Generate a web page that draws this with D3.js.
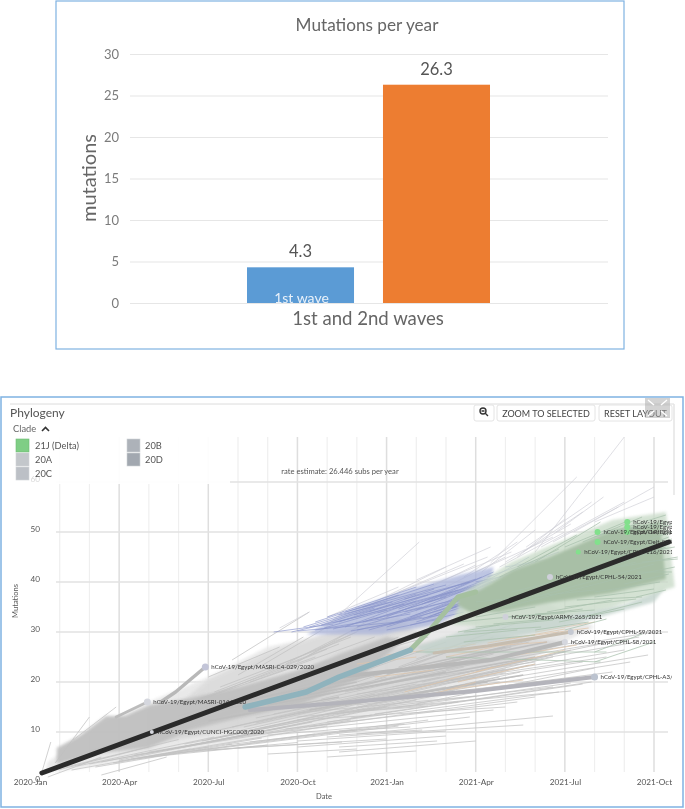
<!DOCTYPE html>
<html><head><meta charset="utf-8">
<script src="https://cdn.jsdelivr.net/npm/d3@7"></script>
<style>
html,body{margin:0;padding:0;background:#fff}
svg{display:block;filter:blur(.35px)}
text{font-family:Lato,sans-serif}
</style></head><body><svg id="c" width="685" height="809"></svg>
<script>
// ---- top chart data ----
const waves=["1st wave","2nd wave"];
const waveValues=[4.3,26.3];
const waveLabels=["4.3","26.3"];
const waveColors=["#5b9bd5","#ed7d31"];
const barTicks=[0,5,10,15,20,25,30];
// ---- phylogeny data: months since 2020-01, mutations ----
const monthTicks=[0,3,6,9,12,15,18,21];
const monthNames=["2020-Jan","2020-Apr","2020-Jul","2020-Oct","2021-Jan","2021-Apr","2021-Jul","2021-Oct"];
const minorMonths=[1,2,4,5,7,8,10,11,13,14,16,17,19,20];
const mutTicks=[0,10,20,30,40,50,60];
const legendNames=["21J (Delta)","20A","20C","20B","20D"];
const legendColors=["#7fce85","#c3c7cb","#bcc0c6","#adb2b9","#a2a8b0"];
const fanLow=[[.5,1.8],[2,3],[4,5],[7,8],[10.4,11.5],[13,15],[15,20],[17,25],[19,31],[16,40],[13,33],[10.4,30],[8,27],[6,21],[4,16],[2,10],[.6,4]];
const fanMid=[[4,7.5],[7,10.5],[10.4,14.5],[13,18.5],[15,22],[17,25.5],[18,28],[15,30],[13,27.5],[10.4,25],[7,19],[4,14]];
const fanHigh=[[5,15.5],[8,21],[10.4,25.5],[13,30],[12.4,33],[10.4,30.5],[8,26],[6,20.5]];
const greyBand=[[.9,6.8],[1.7,9.4],[2.55,13.2],[3.2,13.2],[4.04,15.4],[5.4,16.8],[7.07,19],[9.1,22.4],[10.4,25.6],[12,29],[12.6,28.4],[11,20.4],[9.1,15.4],[7,12.8],[5.4,10.4],[4,6.8],[2.36,5.8],[.9,3.6]];
const blueCloud=[[9.3,29.5],[11,35],[12.9,38.8],[14.5,41.5],[15.6,43],[15.4,37],[13.7,31.5],[11.8,29.5]];
const greenHalo=[[14.6,38],[16.2,44],[17.4,47],[19.6,52.4],[21.4,54],[21.7,39],[19.6,35],[17.4,32.5],[15.4,31],[14.2,31.5]];
const greenCloud=[[14.4,37],[15.15,38.4],[16.26,42.4],[17.4,44.8],[19.6,50.4],[21.2,52],[21.4,40.6],[19.6,37.8],[17.4,35.8],[15.8,34],[14.8,34],[14.4,35.4]];
const tealHalo=[[13,27],[15,31],[17,33],[20,35.5],[21.4,39],[21,36],[18,31],[15,27.5],[13.4,25.5]];
const greyBranches=[
[.4,2,.7,8],[.85,3.8,2,13],[1.45,8.4,2.9,15],[2.4,1.4,4.6,5],[.6,1,2.4,5],[1,2.5,4,7],[1.2,3,5,8.5],[1.6,3.2,6.2,9],
[2,3.6,7.5,9.6],[2.4,4,8.6,11],[3,4.4,9.5,12],[3.4,4.6,10,11.2],[3.5,5.4,10.8,12.4],[4,6,11.5,13.4],[4.6,6.4,12,15],[5,6.8,13,16.4],
[5.2,7.6,13.6,17.2],[5.8,8.2,14.3,18.4],[6,8.6,15,19.6],[6.4,9,15.8,21],[6.8,9.6,16.5,22],[7,10.2,17,23.6],[7.2,11,17.6,25],[7.6,11.8,18,26],
[3,4.2,6,7],[4,5,8,7.4],[5,5.8,9,7.9],[6,6.4,10.5,8],[7,6.8,12,8.6],[9,7,14,9.2],[8,5.6,11,6.6],[10.4,7,13.7,8.2],[10.4,6,15,8.2],[10,5,13,6.2],
[9,8.2,14,10.2],[10,9,16.6,11.4],[11,9.6,17.6,13.2],[10.4,9.4,13.2,10.4],[10.4,10.2,12.8,11],[8,9.4,12.6,11.6],[10.4,14,18.2,18.2],[9,12.4,16,15],
[9,13,14.4,16],[10,13.6,13.4,15.2],[11,14.4,17.6,19],[9,13.8,15,17.2],[11,15.4,16.6,19.6],[12,16.6,18.5,21],[13,17,19.6,22],[10,15.4,15.8,20],
[12,18,18.6,24],[13,19.4,19.4,25],[14,20.4,20,26.4],[12,19.8,17,24],[14,22.6,20.5,29],[13,21.6,18.4,28],[15,24.2,21,30],[11,17.6,16,21.8],
[2,6.2,6,13],[2.5,6.6,7,14.4],[3,7.4,8,15.8],[3.4,8.6,8.4,17],[4,9.2,9,18.4],[4,10,9.6,20],[4.4,11,10,21.6],[5,12.6,10.4,23.4],[5,13.2,11,24.6],[5.4,14,11.4,26],
[5,15,9,23.2],[5.4,16,9.6,25],[6,17,10,26.6],[6.2,18,10.4,27.6],[6.4,19,10.8,29],[6.8,24.4,9.4,34],[6,21,8.4,27],[7,21.4,9.2,29],[7.6,22.6,10,31],
[8,22.4,11,30],[8.6,23.6,11.2,31.4],[9,24,11.6,33],[9.4,25.4,12,33],[7.4,20,11.6,29],[8,19,12.4,29],[9.2,20.6,13,30],[9.8,22,13.4,30.6],
[10,19.6,14,28],[11,20,14.6,27],[11.6,20.4,15,28.2],[12,22,15.6,29],[12.4,23,16,31],[13,24.6,16.4,31.8],[10.4,24,13.4,29],[7,14,11,20.6],[8,14.6,12,21],[9,16,12.6,21.4],
[1.4,2.4,5.4,6.6],[2.2,3,6.8,7.6],[2.8,3.8,7.8,8.8],[3.6,4.6,9.6,9.6],[4.4,5.4,11,10.4],[5.6,6.2,12.4,11.2],[6.6,7.4,13.4,12.4],[7.4,8,14.8,13],
[8,9.8,15.6,14.4],[8.6,10.6,16.4,16],[9.4,11,17,17],[10,12,17.8,18],[10.8,12.8,18.6,19.6],[11.6,13.6,18.9,20],[12.2,14.8,18.2,19.8],[13,15.6,19,22.8],
[13.4,17.6,20.2,24],[14.2,19,20.8,25.4],[8.4,13,14,19],[9.6,14.2,15,21],[10.6,16,16,22.6],[11.4,17,16.8,23.4],[12.2,19,17.6,25.4],[13.2,20,18.2,26.4],
[14.4,21.6,19.2,27.6],[15.4,22.8,20.4,28],[6.2,10.2,11,16.4],[6.8,11,11.6,17.6],[7.6,12.8,12,18],[8.2,13.6,13,19.6],[9,15,13.8,21],[9.8,16.6,14.6,23],
[10.6,18,15.2,24],[11,19,15.6,25.6],[11.8,20.4,16.2,27],[12.6,22,16.8,28],[13.6,23,17.2,29],[14.2,24.4,17.8,30]];
const mediumBranches=[[8,15.4,14,22],[9,17,15,24],[10,19.4,16,27],[7,16,12,22],[9.4,14.4,15.4,20],[10.6,15.4,16.6,21.4],[11,18.6,17,25],[6,12.2,10.4,17],[6.4,14.4,11,20],[12,21.6,17.4,28]];
const spikeBranches=[
[17,46,20,69],[15.5,43.8,18.4,61],[18.3,50,21,59],[19,52,21,57],[17.7,50,19.3,57],[16.7,47,18.9,56],[13,40.4,15.5,47],[10.1,31.8,13.1,48],[8.4,30.8,9.4,34],
[14.6,41,16.4,48],[15.2,42,17,50.4],[16,44,18.2,51.6],[14,39,16,45],[16.6,46,18.6,54],[17.6,48,19.8,55],[11.6,36,14,43],[12.4,38,14.6,43.6],[12,37,15.4,45],[10,33,12.4,39],
[15,42,17.6,49],[15.8,43,18,50],[13.6,39.6,16.2,46],[13,37.6,15,43.4],[16.4,45,18,52.6],[17.2,47,20,56]];
const blueBranches=[
[8.8,30,11,33],[9.2,31,12,36],[9.6,32,12.4,37.4],[10,33,13,39],[10.4,32,13.6,38.6],[10.6,34,14,39.4],[11,31,14,36],[11,33,14.4,38.4],[11.4,34,14.8,40],[11.6,32.6,15,39],
[12,33,15.2,41],[12.2,35,15,40.6],[12.6,34,15.4,38],[13,34.4,15.3,40],[13.2,35.6,15.6,42],[13.4,33,15.2,37],[9,30.2,12.4,32],[9.6,30.4,12.8,33.6],[10.2,30.6,13.2,35],[10.8,30.2,13.8,33.4],
[11.4,30.4,14.2,35],[12,31,14.6,36],[12.4,32,15,37.4],[13,32,15.6,37],[13.6,34.4,16.4,41],[14,36,17,44],[14.4,37,16.8,45],[9.4,31,13,37.6],[8.2,30,10.2,31.6],[14.8,38,16.6,42.6],
[15,40,17.4,43],[15.4,41,17.8,46],[11.2,35,13.6,39.6],[12.6,36.6,14.8,40],[13.8,37,15.4,40.6],[16,43,17.4,44.4],
[9.9,30.8,12,34.4],[10.2,31.8,12.6,35.6],[10.6,31,13,36.2],[10.9,33.4,13.4,37.4],[11.2,32,14,37],[11.7,33.8,14.2,38],[12.1,31.6,14.8,37.2],[12.4,34.6,15,39.4],[12.8,33,15.4,39],[13.2,32.6,15.8,38.4],
[13.6,33.4,16,39],[14,34.4,16.2,38],[14.2,35,16.6,41.6],[10.4,33.4,12.2,36],[11,30.4,13.2,33],[12,30.4,13.8,32.6],[12.8,31.4,14.6,34],[9.8,31.4,11.6,34.8],[13.4,36,15.8,41],[14.6,36.8,16.4,39.6]];
const greenBranches=[
[17,44,19.2,52],[18,47,20.2,52.4],[18.6,48,20.6,53],[19,49,21.4,53.4],[19.4,50,21.5,52],[20,50.6,21.6,51.4],[16.4,43,18.4,49.4],[15.8,41,17.8,46.6],
[19.6,45,21.7,47],[19.8,43,21.8,45],[20,41,21.7,43],[20,39.6,21.5,41.6],[19,38,21.2,40],[19,37,21,38.6],[18.4,36.4,20.6,37],[18,35,20.4,36.6],
[17.4,34,19.6,36.4],[17,33.6,19,34.4],[16.4,33,18.6,34.6],[16,33,18,33.8],[15.6,31.6,18.2,33],[15,31,17.6,32.4],[14.6,30,17.2,31],[14.4,32,16.8,33.4],
[14,29,16.4,30.4],[14.4,30,15.8,31.4],[20.4,37,21.4,38.4],[18.6,33,20.6,36],[17.8,32,20,34.6],[17,30.4,18.8,32],[14.6,28,17,29.4],[15,33,17,35],
[13,26,19.4,26],[14,25,19.2,24],[19,24,21,28],[19,26,20.6,29.6],[18,30.4,19.4,32.6],
[16,35,20,41],[17,37,21,43.6],[18,40,21.4,47],[18.4,42,21.5,49],[19,45,21.6,50],[15,36,19,38.4],[16.2,38,20.4,44],[20.4,46,21.6,48.6],[20.6,44,21.8,44.6],[20.4,42,21.6,42]];
const orangeBranches=[
[11,23.6,13,25],[12,25.4,15,27.6],[13.8,26,16,27.8],[14,25,17,28.8],[15,27,17.4,28],[13,23,15.6,24.6],[14.4,20,17,23.6],[13.2,17,15,20],
[12.6,18,15.6,23],[14,18.4,16.6,20.4],[15,22,18,26.4],[15.4,27.8,18,30.6],[16,28.6,18.8,30.8],[16,25,18.4,27.4],[17,30,19,32],[11.6,21,13.6,22.4]];
const tealPath=[[7.24,15],[9.3,18],[10.4,21],[12.8,26.4]];
const greenStem=[[12.8,26.4],[13.4,30],[14.4,37],[15,38]];
const masriC4Path=[[4.4,16],[4.9,18],[5.9,23]];
const masri014Path=[[2.9,13],[3.95,16]];
const a3Path=[[7.4,14.4],[10.4,15.8],[15,18.2],[19,21]];
const s9Path=[[13.6,25.8],[15.4,27.2],[18.2,30]];
const s8Path=[[10.4,21],[15.5,24.4],[18,28]];
const rootPath=[[.4,1.8],[21.5,48]];
const tipNames=["hCoV-19/Egypt/MASRI-C4-029/2020","hCoV-19/Egypt/MASRI-014/2020","hCoV-19/Egypt/CUNCI-HGC003/2020","hCoV-19/Egypt/ARMY-265/2021","hCoV-19/Egypt/CPHL-54/2021","hCoV-19/Egypt/CPHL-S9/2021","hCoV-19/Egypt/CPHL-S8/2021","hCoV-19/Egypt/CPHL-A3/2021","hCoV-19/Egypt/CPHL-116/2021","hCoV-19/Egypt/Delt-084","hCoV-19/Egypt/Delt-071","hCoV-19/Egypt/Delt-092","hCoV-19/Egypt/Delt-098","hCoV-19/Egypt/Delt-105"];
const tipMonths=[5.9,3.95,4.1,16,17.5,18.2,18,19,18.45,19.1,19.1,20.1,20.1,20.1];
const tipMuts=[23,16,10,33,41,30,28,21,46,48,50,52,51,50];
const tipColors=["#c3c5d8","#d5d7de","#d5d7de","#cfd0da","#cfd0da","#c5c9d2","#d5d7de","#bcc3cf","#82e08c","#82e08c","#82e08c","#82e08c","#82e08c","#82e08c"];
const tipSizes=[3.5,3.5,2,3,3,3,3,3.5,2.5,3,3,3,3,3];

const svg=d3.select("#c");
const ink="#666";
// ===== top bar chart =====
svg.append("rect").attr("x",56).attr("y",1).attr("width",568).attr("height",348).attr("fill","#fff").attr("stroke","#7fb2e2").attr("stroke-width",1.2);
const by=d3.scaleLinear().domain([0,30]).range([303,54]);
const bx=d3.scaleBand().domain(waves).range([247,490]).paddingInner(.213);
const bg=svg.append("g").attr("transform","translate(130,0)");
bg.call(d3.axisLeft(by).tickValues(barTicks).tickSize(-478).tickPadding(11));
bg.select(".domain").remove();
bg.selectAll(".tick line").attr("stroke","#e6e6e6").attr("stroke-width",1.2);
bg.selectAll(".tick text").attr("font-family","Lato").attr("font-size",13).attr("fill","#7b7b7b");
svg.append("g").selectAll("rect").data(waves).join("rect")
 .attr("x",d=>bx(d)).attr("width",bx.bandwidth())
 .attr("y",(d,i)=>by(waveValues[i])).attr("height",(d,i)=>by(0)-by(waveValues[i]))
 .attr("fill",(d,i)=>waveColors[i]);
svg.append("g").selectAll("text").data(waveLabels).join("text")
 .attr("x",(d,i)=>bx(waves[i])+bx.bandwidth()/2).attr("y",(d,i)=>by(waveValues[i])-10)
 .attr("text-anchor","middle").attr("font-size",16.5).attr("fill","#555").text(d=>d);
svg.append("clipPath").attr("id","barclip").append("rect").attr("x",240).attr("y",270).attr("width",120).attr("height",33);
svg.append("text").attr("clip-path","url(#barclip)").attr("x",bx(waves[0])+bx.bandwidth()/2+1).attr("y",303)
 .attr("text-anchor","middle").attr("font-size",14).attr("fill","#e8f1fa").text(waves[0]);
svg.append("text").attr("x",367).attr("y",31).attr("text-anchor","middle").attr("font-size",17.2).attr("fill",ink).text("Mutations per year");
svg.append("text").attr("x",368).attr("y",325).attr("text-anchor","middle").attr("font-size",18.6).attr("fill",ink).text("1st and 2nd waves");
svg.append("text").attr("transform","translate(96,178) rotate(-90)").attr("text-anchor","middle").attr("font-size",20).attr("fill",ink).text("mutations");

// ===== phylogeny =====
svg.append("rect").attr("x",1).attr("y",397).attr("width",682).attr("height",410).attr("fill","#fff").attr("stroke","#7fb2e2").attr("stroke-width",1.5);
svg.append("line").attr("x1",10).attr("x2",674).attr("y1",404).attr("y2",404).attr("stroke","#dcdcdc");
svg.append("line").attr("x1",674).attr("x2",674).attr("y1",404).attr("y2",495).attr("stroke","#e4e4e4").attr("stroke-width",1.5);
const defs=svg.append("defs");
defs.append("filter").attr("id","soft").attr("x","-10%").attr("y","-10%").attr("width","120%").attr("height","120%").append("feGaussianBlur").attr("stdDeviation",1.6);
const x=d3.scaleLinear().domain([0,21]).range([30,654]);
const y=d3.scaleLinear().domain([0,60]).range([782,482]);
const G=svg.append("g");
// grid
G.append("g").selectAll("line").data(minorMonths).join("line").attr("x1",d=>x(d)).attr("x2",d=>x(d)).attr("y1",437).attr("y2",772).attr("stroke","#efefef").attr("stroke-width",1.2);
G.append("g").selectAll("line").data(monthTicks.slice(1)).join("line").attr("x1",d=>x(d)).attr("x2",d=>x(d)).attr("y1",437).attr("y2",772).attr("stroke","#dedede").attr("stroke-width",1.5);
G.append("g").selectAll("line").data(mutTicks.slice(1)).join("line").attr("x1",56).attr("x2",668).attr("y1",d=>y(d)).attr("y2",d=>y(d)).attr("stroke","#e2e2e2").attr("stroke-width",1.6);
G.append("rect").attr("x",8).attr("y",434).attr("width",222).attr("height",50).attr("fill","#fff").attr("opacity",.93);
// axes
const ax=G.append("g").attr("transform","translate(0,772)").call(d3.axisBottom(x).tickValues(monthTicks).tickFormat((d,i)=>monthNames[i]).tickSize(0).tickPadding(7));
ax.select(".domain").remove();
ax.selectAll("text").attr("font-family","Lato").attr("font-size",8.2).attr("fill","#555");
const ay=G.append("g").attr("transform","translate(40,-3)").call(d3.axisLeft(y).tickValues(mutTicks).tickSize(0).tickPadding(0));
ay.select(".domain").remove();
ay.selectAll("text").attr("font-family","Lato").attr("font-size",8.2).attr("fill","#555");
ay.selectAll(".tick").filter(d=>d===60).select("text").attr("fill","#d8d8d8");
G.append("text").attr("x",324).attr("y",799).attr("text-anchor","middle").attr("font-size",7.5).attr("fill","#555").text("Date");
G.append("text").attr("transform","translate(18,601) rotate(-90)").attr("text-anchor","middle").attr("font-size",7.5).attr("fill","#555").text("Mutations");
G.append("text").attr("x",340).attr("y",474).attr("text-anchor","middle").attr("font-size",7.6).attr("fill","#555").text("rate estimate: 26.446 subs per year");
// clouds and branches
const line=d3.line().x(d=>x(d[0])).y(d=>y(d[1]));
const poly=(pts,f,o)=>G.append("path").attr("d",line(pts)+"Z").attr("fill",f).attr("opacity",o).attr("filter","url(#soft)");
poly(fanLow,"#e6e6e6",.85);
const seg=(rows,c,w,o)=>G.append("g").selectAll("path").data(rows).join("path")
 .attr("d",r=>line([[r[0],r[1]],[r[2],r[3]]])).attr("stroke",c).attr("stroke-width",w).attr("stroke-opacity",o).attr("fill","none");
poly(fanMid,"#d4d4d4",.8);
poly(fanHigh,"#dadada",.8);
seg(greyBranches,"#c2c2c2",.8,.95);
seg(spikeBranches,"#cfcfd6",.7,.95);
poly(blueCloud,"#a8b2d9",.75);
seg(blueBranches,"#8793c9",.8,.8);
poly(greyBand,"#c0c0c0",.95);
seg(mediumBranches,"#bdbdbd",1.6,.9);
seg(orangeBranches,"#dfc4a8",.8,.9);
poly(tealHalo,"#c3d3cc",.8);
poly(greenHalo,"#cadbc9",.8);
poly(greenCloud,"#a8bfa6",1);
seg(greenBranches,"#a9c0ac",.8,.95);
const thick=(p,c,w)=>G.append("path").attr("d",line(p)).attr("fill","none").attr("stroke",c).attr("stroke-width",w).attr("stroke-linecap","round").attr("stroke-linejoin","round");
thick(s8Path,"#b8b8b8",4);
thick(s9Path,"#c6bdb0",3.2);
thick(a3Path,"#b4b4bb",4.2);
thick(masri014Path,"#bcbcbc",3);
thick(masriC4Path,"#b8b8b8",3.5);
thick(greenStem,"#a5c09f",5);
thick(tealPath,"#8fb3bd",5.5);
thick(rootPath,"#2b2b2b",5);
// tips
G.append("clipPath").attr("id","labclip").append("rect").attr("x",10).attr("y",430).attr("width",662).attr("height",360);
G.append("g").selectAll("circle").data(tipNames).join("circle").attr("cx",(d,i)=>x(tipMonths[i])).attr("cy",(d,i)=>y(tipMuts[i])).attr("r",(d,i)=>tipSizes[i]).attr("fill",(d,i)=>tipColors[i]);
G.append("g").attr("clip-path","url(#labclip)").selectAll("text").data(tipNames).join("text")
 .attr("x",(d,i)=>x(tipMonths[i])+6).attr("y",(d,i)=>y(tipMuts[i])+2).attr("font-size",6.1).attr("fill","#333").text(d=>d);
// header
G.append("text").attr("x",10).attr("y",417).attr("font-size",12).attr("fill","#555").text("Phylogeny");
G.append("text").attr("x",13).attr("y",432).attr("font-size",9.3).attr("fill","#666").text("Clade");
G.append("path").attr("d","M42 431l3.5-3.5l3.5 3.5").attr("fill","none").attr("stroke","#333").attr("stroke-width",1.6);
const lg=G.append("g").selectAll("g").data(legendNames).join("g").attr("transform",(d,i)=>`translate(${i<3?16:127},${439+(i<3?i:i-3)*14})`);
lg.append("rect").attr("width",13).attr("height",13).attr("fill",(d,i)=>legendColors[i]).attr("stroke",(d,i)=>i?"#d0d3d6":"#6dbd73").attr("stroke-width",.6);
lg.append("text").attr("x",(d,i)=>i<3?19:18).attr("y",10).attr("font-size",9.3).attr("fill","#555").text(d=>d);
// buttons
const btnX=[474,497,599],btnW=[20,98,73],btnT=["","ZOOM TO SELECTED","RESET LAYOUT"];
const bt=G.append("g").selectAll("g").data(btnT).join("g").attr("transform",(d,i)=>`translate(${btnX[i]},405)`);
bt.append("rect").attr("width",(d,i)=>btnW[i]).attr("height",16).attr("rx",2).attr("fill","#fff").attr("stroke","#e4e4e4");
bt.append("text").attr("x",(d,i)=>btnW[i]/2).attr("y",11.5).attr("text-anchor","middle").attr("font-size",9).attr("fill","#444").text(d=>d);
G.append("circle").attr("cx",483).attr("cy",411).attr("r",3).attr("fill","none").attr("stroke","#333").attr("stroke-width",1.4);
G.append("path").attr("d","M485 413l3 3M481.5 411h3").attr("stroke","#333").attr("stroke-width",1.4);
G.append("rect").attr("x",645).attr("y",398).attr("width",25).attr("height",20).attr("fill","#a8a8a8").attr("opacity",.5);
G.append("path").attr("d","M648 400l6 5M667 400l-6 5M648 416l6-5M667 416l-6-5").attr("stroke","#fff").attr("stroke-width",1.4);
</script></body></html>
